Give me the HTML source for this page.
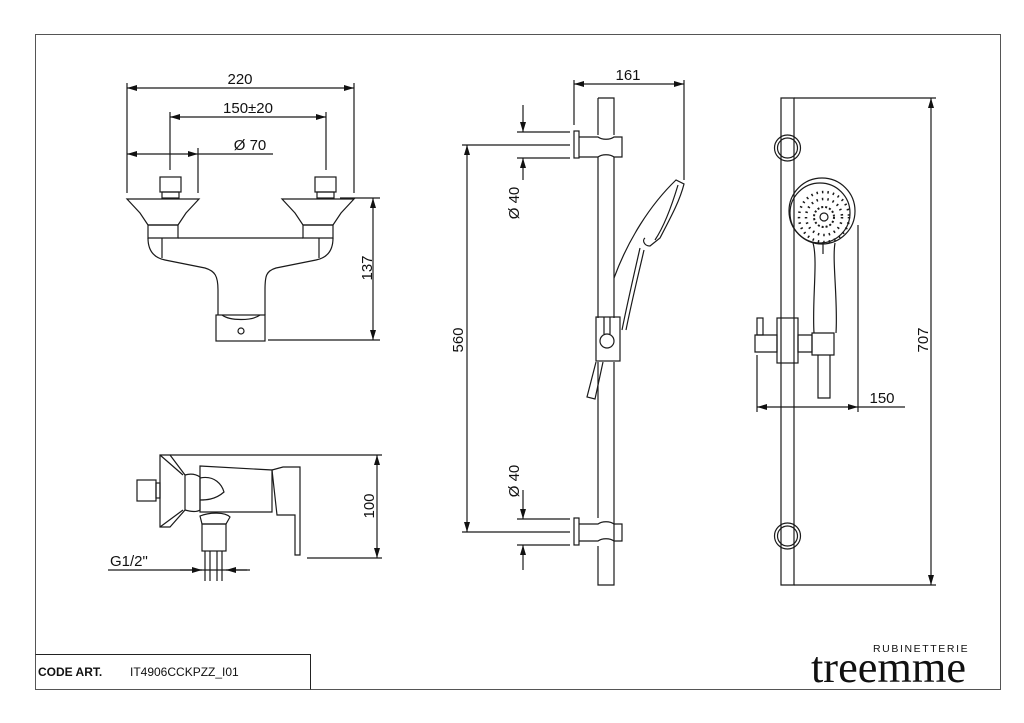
<!DOCTYPE html>
<html><head><meta charset="utf-8"><style>
html,body{margin:0;padding:0;background:#fff}
svg{display:block}
text{font-family:"Liberation Sans",sans-serif;fill:#111}
</style></head><body>
<svg width="1024" height="723" viewBox="0 0 1024 723" xmlns="http://www.w3.org/2000/svg">
<defs>
<marker id="a" viewBox="0 0 10 6" refX="10" refY="3" markerWidth="10" markerHeight="6" orient="auto-start-reverse" markerUnits="userSpaceOnUse"><path d="M0,0 L10,3 L0,6 Z" fill="#111"/></marker>
</defs>
<g fill="none" stroke="#222" stroke-width="1">
<rect x="35.5" y="34.5" width="965" height="655" stroke="#555"/>
<path d="M35.5 654.5 H310.5 V689.5"/>
</g>
<text x="38" y="676" font-size="12" font-weight="bold">CODE ART.</text>
<text x="130" y="676" font-size="12">IT4906CCKPZZ_I01</text>
<text x="873" y="652" font-size="10.5" letter-spacing="1.6">RUBINETTERIE</text>
<text x="811" y="682" font-size="44" style="font-family:'Liberation Serif',serif" textLength="155" lengthAdjust="spacingAndGlyphs">treemme</text>

<g fill="none" stroke="#1a1a1a" stroke-width="1.2">
<path d="M127 83V193M354 83V193M170 112V170M326 112V170M198 148V193"/>
<line x1="127" y1="88" x2="354" y2="88" marker-start="url(#a)" marker-end="url(#a)"/>
<line x1="170" y1="117" x2="326" y2="117" marker-start="url(#a)" marker-end="url(#a)"/>
<line x1="127" y1="154" x2="198" y2="154" marker-start="url(#a)" marker-end="url(#a)"/>
<path d="M198 154H273"/>
<path d="M340 198H380M268 340H380"/>
<line x1="373" y1="198" x2="373" y2="340" marker-start="url(#a)" marker-end="url(#a)"/>
<rect x="160" y="177" width="21" height="15"/><rect x="162" y="192" width="17" height="6"/>
<rect x="315" y="177" width="21" height="15"/><rect x="317" y="192" width="17" height="6"/>
<path d="M127 199H199L186 213L178 225H148L140 213Z"/>
<path d="M282 199H354L341 213L333 225H303L295 213Z"/>
<path d="M148 225H178V238H148ZM303 225H333V238H303Z"/>
<path d="M178 238H303"/>
<path d="M148 238C148 252 155 258 165 260L205 268C215 271 218 276 218 290V307"/>
<path d="M333 238C333 252 326 258 316 260L276 268C266 271 265 276 265 290V307"/>
<path d="M162 238V258M319 238V258"/>
<rect x="216" y="315" width="49" height="26"/>
<path d="M218 307V315M265 307V315M222 315C230 321 252 321 260 315"/>
<circle cx="241" cy="331" r="3"/>
<path d="M170 455H382M307 558H382"/>
<line x1="377" y1="455" x2="377" y2="558" marker-start="url(#a)" marker-end="url(#a)"/>
<path d="M160 455L170 455L185 475V510L170 527H160Z" />
<path d="M160 455L183 475M160 527L183 510"/>
<rect x="137" y="480" width="19" height="21"/><rect x="156" y="483" width="4" height="15"/>
<path d="M185 475C192 473 197 475 200 477V510C197 512 192 512 185 510"/>
<path d="M200 466L272 470V512L200 512Z"/>
<path d="M200 478C215 475 222 485 224 492C215 500 205 500 200 500"/>
<path d="M272 470L283 467H300V555H295V515H277Z"/>
<path d="M200 516C210 512 225 512 230 517L226 524H202Z"/>
<rect x="202" y="524" width="24" height="27"/>
<path d="M205 551V581M222 551V581M210 551V581M217 551V581"/>
<path d="M108 570H250"/>
<line x1="180" y1="570" x2="202" y2="570" marker-end="url(#a)"/>
<line x1="247" y1="570" x2="226" y2="570" marker-end="url(#a)"/>
<path d="M574 80V125M684 80V180"/>
<line x1="574" y1="84" x2="684" y2="84" marker-start="url(#a)" marker-end="url(#a)"/>
<path d="M598 98H614V135M614 157V318M614 362V585H598V546M598 518V362M598 318V157M598 135V98"/>
<rect x="574" y="131" width="5" height="27"/>
<path d="M579 137H598C602 140 610 140 614 137H622V157H614C610 154 602 154 598 157H579"/>
<rect x="574" y="518" width="5" height="27"/>
<path d="M579 524H598C602 521 610 521 614 524H622V541H614C610 538 602 538 598 541H579"/>
<path d="M517 132H570M462 145H570M517 158H570"/>
<path d="M517 519H570M462 532H570M517 545H570"/>
<line x1="523" y1="105" x2="523" y2="132" marker-end="url(#a)"/>
<line x1="523" y1="180" x2="523" y2="158" marker-end="url(#a)"/>
<line x1="523" y1="490" x2="523" y2="519" marker-end="url(#a)"/>
<line x1="523" y1="570" x2="523" y2="545" marker-end="url(#a)"/>
<line x1="467" y1="145" x2="467" y2="532" marker-start="url(#a)" marker-end="url(#a)"/>
<path d="M614 278C628 240 650 205 676 180L684 184C680 200 672 215 660 238L650 246C644 246 642 240 645 238"/>
<path d="M678 185C672 205 665 225 655 240"/>
<path d="M640 248C635 270 628 300 622 330M644 250C639 272 632 300 626 330"/>
<rect x="596" y="317" width="24" height="44"/>
<circle cx="607" cy="341" r="7"/><path d="M604 317V334M610 317V334"/>
<path d="M596 362L587 397L595 399L603 362"/>
<path d="M794 98H936M794 585H936"/>
<line x1="931" y1="98" x2="931" y2="585" marker-start="url(#a)" marker-end="url(#a)"/>
<path d="M781 98H794V585H781Z"/>
<circle cx="787.5" cy="148" r="13"/><circle cx="787.5" cy="148" r="10"/>
<circle cx="787.5" cy="536" r="13"/><circle cx="787.5" cy="536" r="10"/>
<circle cx="822" cy="211" r="33"/><circle cx="820" cy="213" r="30"/>
<circle cx="824" cy="217" r="10" stroke-dasharray="2 2" stroke-width="2"/>
<circle cx="824" cy="217" r="4"/>
<circle cx="824" cy="217" r="18" stroke-dasharray="1.5 4" stroke-width="2.5"/>
<circle cx="824" cy="217" r="25" stroke-dasharray="1.5 4" stroke-width="2.5"/>
<path d="M813 243C818 260 812 300 814 333M835 243C832 260 838 300 836 333M823 242V254"/>
<path d="M812 333H834V355H812ZM818 355H830V398H818Z"/>
<rect x="777" y="318" width="21" height="45"/>
<path d="M755 335H777V352H755ZM798 335H812V352H798Z"/>
<rect x="757" y="318" width="6" height="17"/>
<path d="M757 355V412M858 225V412M858 407H905"/>
<line x1="757" y1="407" x2="858" y2="407" marker-start="url(#a)" marker-end="url(#a)"/>
</g>
<g font-size="15">
<text x="240" y="84" text-anchor="middle">220</text>
<text x="248" y="113" text-anchor="middle">150±20</text>
<text x="250" y="150" text-anchor="middle">Ø 70</text>
<text x="628" y="80" text-anchor="middle">161</text>
<text x="882" y="403" text-anchor="middle">150</text>
<text x="110" y="566">G1/2"</text>
<text transform="translate(372,268) rotate(-90)" text-anchor="middle">137</text>
<text transform="translate(374,506) rotate(-90)" text-anchor="middle">100</text>
<text transform="translate(463,340) rotate(-90)" text-anchor="middle">560</text>
<text transform="translate(519,203) rotate(-90)" text-anchor="middle">Ø 40</text>
<text transform="translate(519,481) rotate(-90)" text-anchor="middle">Ø 40</text>
<text transform="translate(928,340) rotate(-90)" text-anchor="middle">707</text>
</g>
</svg>
</body></html>
